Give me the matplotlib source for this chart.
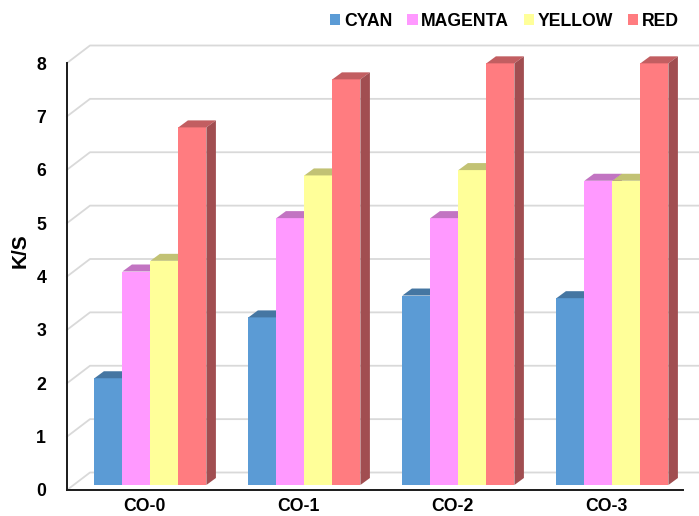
import matplotlib
matplotlib.use("Agg")
import matplotlib.pyplot as plt
import numpy as np
from matplotlib.patches import Polygon, Patch
from matplotlib.transforms import Affine2D
from matplotlib.colors import to_rgb

plt.rcParams['font.family'] = ['Liberation Sans', 'DejaVu Sans']
plt.rcParams['font.weight'] = 'bold'

# ---- data ----
categories = ["CO-0", "CO-1", "CO-2", "CO-3"]
series_names = ["CYAN", "MAGENTA", "YELLOW", "RED"]
cyan = [2.0, 3.14, 3.55, 3.5]
magenta = [4.0, 5.0, 5.0, 5.7]
yellow = [4.2, 5.8, 5.9, 5.7]
red = [6.7, 7.6, 7.9, 7.9]
y_ticks = [0, 1, 2, 3, 4, 5, 6, 7, 8]
y_label = "K/S"

# ---- styling ----
front_colors = ["#5B9BD5", "#FF99FF", "#FFFF99", "#FF7C80"]
grid_color = "#D9D9D9"
FS = 12.7


def shade(c, f):
    r, g, b = to_rgb(c)
    return (r * f, g * f, b * f)


W, H, DPI = 6.99, 5.16, 100
fig = plt.figure(figsize=(W, H), dpi=DPI)

# front plane of the 3D box in figure pixels
left_px, right_px, bot_px, top_px = 67, 683, 490, 63
ax = fig.add_axes([left_px / 699, (516 - bot_px) / 516,
                   (right_px - left_px) / 699, (bot_px - top_px) / 516])
ax.set_xlim(-0.5, len(categories) - 0.5)
ax.set_ylim(0, 8)

px_x = (right_px - left_px) / len(categories)   # pixels per category
px_y = (bot_px - top_px) / 8.0                  # pixels per unit

# depth offsets expressed in data units
PLANE_DX, PLANE_DY = 6.4 / px_x, 5.0 / px_y      # bar front faces
DEPTH_DX, DEPTH_DY = 9.5 / px_x, 7.0 / px_y      # bar thickness
WALL_DX, WALL_DY = 23.0 / px_x, 17.5 / px_y      # back wall

# gridlines: side wall diagonal + back wall horizontal
x0, x1 = -0.5, len(categories) - 0.5
for v in y_ticks:
    ax.plot([x0, x0 + WALL_DX, x1 + WALL_DX + 1],
            [v, v + WALL_DY, v + WALL_DY],
            color=grid_color, lw=1.3, zorder=0.5, clip_on=False)

plane = Affine2D().translate(PLANE_DX, PLANE_DY) + ax.transData

series = [cyan, magenta, yellow, red]
n = len(series)
bw = 1.0 / (n + 1.5)
x = np.arange(len(categories))
z = 2.0
for ci in range(len(categories)):
    for si in range(n):
        v = series[si][ci]
        l = x[ci] - n * bw / 2 + si * bw
        r = l + bw
        fc = front_colors[si]
        ax.bar([l + bw / 2], [v], width=bw, color=fc, transform=plane,
               zorder=z, linewidth=0)
        top = Polygon([(l, v), (r, v), (r + DEPTH_DX, v + DEPTH_DY),
                       (l + DEPTH_DX, v + DEPTH_DY)],
                      closed=True, facecolor=shade(fc, 0.76), edgecolor='none',
                      transform=plane, zorder=z + 0.1, clip_on=False)
        side = Polygon([(r, 0), (r + DEPTH_DX, DEPTH_DY),
                        (r + DEPTH_DX, v + DEPTH_DY), (r, v)],
                       closed=True, facecolor=shade(fc, 0.63), edgecolor='none',
                       transform=plane, zorder=z + 0.2, clip_on=False)
        ax.add_patch(top)
        ax.add_patch(side)
        z += 1

ax.set_xlim(-0.5, len(categories) - 0.5)
ax.set_ylim(0, 8)

# axes
for s in ["top", "right"]:
    ax.spines[s].set_visible(False)
for s in ["left", "bottom"]:
    ax.spines[s].set_color("#1a1a1a")
    ax.spines[s].set_linewidth(1.4)
    ax.spines[s].set_zorder(100)
ax.set_xticks(x)
ax.set_xticklabels(categories, fontsize=FS, fontweight='bold')
ax.set_yticks(y_ticks)
ax.set_yticklabels([str(t) for t in y_ticks], fontsize=FS, fontweight='bold')
ax.tick_params(axis='both', length=0)
ax.tick_params(axis='y', pad=15)
ax.tick_params(axis='x', pad=6.0)
ax.patch.set_visible(False)

fig.text(20 / 699, 1 - 251 / 516, y_label, rotation=90, fontsize=15,
         fontweight='bold', ha='center', va='center')

handles = [Patch(facecolor=c, edgecolor='none') for c in front_colors]
fig.legend(handles, series_names, loc='center right', ncol=4,
           bbox_to_anchor=(679 / 699, 1 - 21 / 516), frameon=False,
           prop={'size': FS, 'weight': 'bold'}, handlelength=0.58,
           handleheight=0.58, handletextpad=0.2, columnspacing=0.85,
           borderpad=0, borderaxespad=0)

fig.savefig("out.png", dpi=DPI)
